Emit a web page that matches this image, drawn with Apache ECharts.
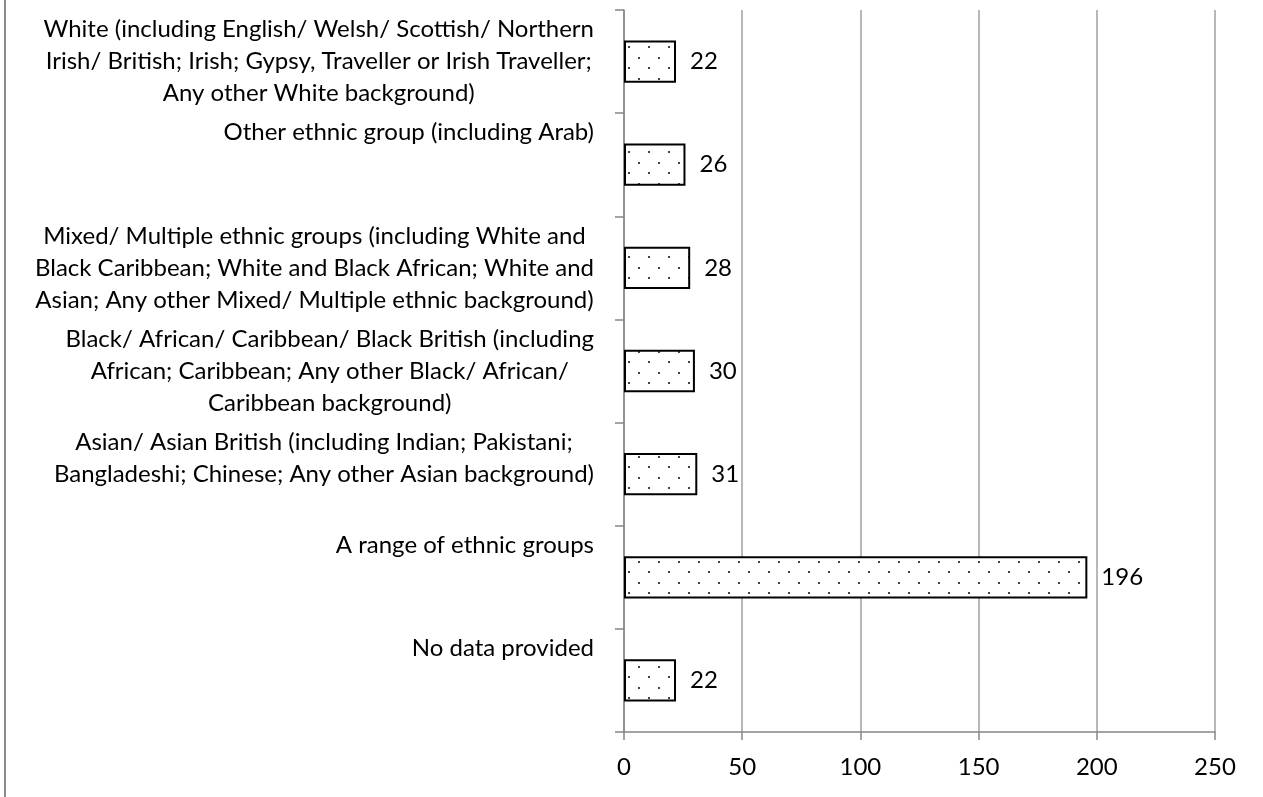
<!DOCTYPE html>
<html>
<head>
<meta charset="utf-8">
<script src="https://cdn.jsdelivr.net/npm/echarts@6/dist/echarts.min.js"></script>
<style>
  html, body { margin: 0; padding: 0; background: #fff; }
  #chart { width: 1263px; height: 797px; }
</style>
</head>
<body>
<div id="chart"></div>
<script>
  // categories listed bottom to top (category axis order)
  const categories = [
    'No data provided',
    'A range of ethnic groups',
    'Asian/ Asian British (including Indian; Pakistani;\nBangladeshi; Chinese; Any other Asian background)',
    'Black/ African/ Caribbean/ Black British (including\nAfrican; Caribbean; Any other Black/ African/\nCaribbean background)',
    'Mixed/ Multiple ethnic groups (including White and\nBlack Caribbean; White and Black African; White and\nAsian; Any other Mixed/ Multiple ethnic background)',
    'Other ethnic group (including Arab)',
    'White (including English/ Welsh/ Scottish/ Northern\nIrish/ British; Irish; Gypsy, Traveller or Irish Traveller;\nAny other White background)'
  ];
  const counts = [22, 196, 31, 30, 28, 26, 22];
  const xMin = 0, xMax = 250, xStep = 50;

  const FONT = 'Lato';
  const SIZE = 24;

  // dotted fill like the Excel pattern
  const dots = document.createElement('canvas');
  dots.width = 20;
  dots.height = 21;
  const ctx = dots.getContext('2d');
  ctx.fillStyle = '#fff';
  ctx.fillRect(0, 0, 20, 21);
  ctx.fillStyle = '#444';
  ctx.fillRect(8, 4, 2, 2);
  ctx.fillRect(18, 15, 2, 2);

  // Excel stacks labels as 3 line blocks, lines centred inside the block
  function labelText(value) {
    const lines = value.split('\n');
    while (lines.length < 3) lines.push(' ');
    return lines.map(l => '{c|' + l + '}').join('\n');
  }

  const chart = echarts.init(document.getElementById('chart'));
  chart.setOption({
    animation: false,
    grid: { left: 624, right: 48, top: 10, bottom: 65, outerBoundsMode: 'none' },
    graphic: [{
      type: 'line',
      shape: { x1: 5, y1: 0, x2: 5, y2: 797 },
      style: { stroke: '#8a8a8a', lineWidth: 2 }
    }],
    xAxis: {
      type: 'value',
      min: xMin,
      max: xMax,
      interval: xStep,
      axisLine: { show: true, lineStyle: { color: '#868686', width: 1.5 } },
      axisTick: { show: true, length: 8, lineStyle: { color: '#868686', width: 1.5 } },
      axisLabel: { fontSize: SIZE, fontFamily: FONT, color: '#000', margin: 23 },
      splitLine: { show: true, lineStyle: { color: '#a0a0a0', width: 1.5 } }
    },
    yAxis: {
      type: 'category',
      data: categories,
      axisLine: { show: true, lineStyle: { color: '#868686', width: 1.5 } },
      axisTick: { show: true, length: 9, lineStyle: { color: '#868686', width: 1.5 } },
      axisLabel: {
        margin: 30,
        align: 'right',
        fontSize: SIZE,
        fontFamily: FONT,
        color: '#000',
        lineHeight: 32,
        formatter: labelText,
        rich: {
          c: { align: 'center', fontSize: SIZE, fontFamily: FONT, color: '#000', lineHeight: 32 }
        }
      }
    },
    series: [{
      type: 'bar',
      data: counts,
      barCategoryGap: '59%',
      itemStyle: {
        color: { image: dots, repeat: 'repeat' },
        borderColor: '#000',
        borderWidth: 2
      },
      label: {
        show: true,
        position: 'right',
        distance: 14,
        fontSize: SIZE,
        fontFamily: FONT,
        color: '#000'
      },
      emphasis: { disabled: true }
    }]
  });
</script>
</body>
</html>
